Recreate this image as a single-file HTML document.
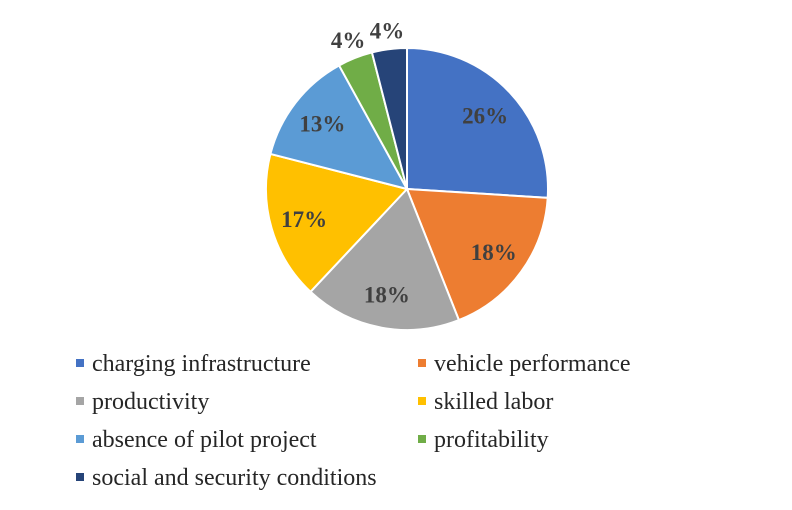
<!DOCTYPE html>
<html><head><meta charset="utf-8"><style>
body{margin:0;background:#fff;}
svg{display:block;font-family:"Liberation Serif",serif;}
</style></head><body>
<svg id="chart" width="792" height="510"></svg>
<script>
const categories=["charging infrastructure","vehicle performance","productivity","skilled labor","absence of pilot project","profitability","social and security conditions"];
const values=[26,18,18,17,13,4,4];
const labels=["26%","18%","18%","17%","13%","4%","4%"];
const colors=["#4472C4","#ED7D31","#A5A5A5","#FFC000","#5B9BD5","#70AD47","#264478"];
const svg=document.getElementById('chart');
const NS="http://www.w3.org/2000/svg";
const cx=407,cy=189,R=141;
const total=values.reduce((a,b)=>a+b,0);
function pt(frac,r){const a=frac*2*Math.PI;return [cx+r*Math.sin(a),cy-r*Math.cos(a)];}
let acc=0;
values.forEach((v,i)=>{
  const s=acc/total,e=(acc+v)/total;acc+=v;
  const [x1,y1]=pt(s,R),[x2,y2]=pt(e,R);
  const p=document.createElementNS(NS,'path');
  p.setAttribute('d',`M${cx},${cy}L${x1},${y1}A${R},${R} 0 ${e-s>0.5?1:0} 1 ${x2},${y2}Z`);
  p.setAttribute('fill',colors[i]);p.setAttribute('stroke','#fff');p.setAttribute('stroke-width','2');
  
  
  svg.appendChild(p);
  const m=(s+e)/2;const small=v/total<0.05;
  const [lx,ly]=pt(m,small?160:R*0.76);
  const t=document.createElementNS(NS,'text');
  t.setAttribute('x',lx);t.setAttribute('y',ly+8);t.setAttribute('text-anchor','middle');
  t.setAttribute('font-size','23');t.setAttribute('font-weight','bold');t.setAttribute('fill','#404040');
  t.textContent=labels[i];
  
  
  svg.appendChild(t);
});
categories.forEach((c,i)=>{
  const col=i%2,row=Math.floor(i/2);
  const x=col?418:76,y=363+row*38;
  const g=document.createElementNS(NS,'g');
  
  
  const r=document.createElementNS(NS,'rect');
  r.setAttribute('x',x);r.setAttribute('y',y-4);r.setAttribute('width',8);r.setAttribute('height',8);r.setAttribute('fill',colors[i]);
  const t=document.createElementNS(NS,'text');
  t.setAttribute('x',x+16);t.setAttribute('y',y+8);t.setAttribute('font-size','24');t.setAttribute('fill','#262626');
  t.textContent=c;
  g.appendChild(r);g.appendChild(t);svg.appendChild(g);
});
</script>
</body></html>
